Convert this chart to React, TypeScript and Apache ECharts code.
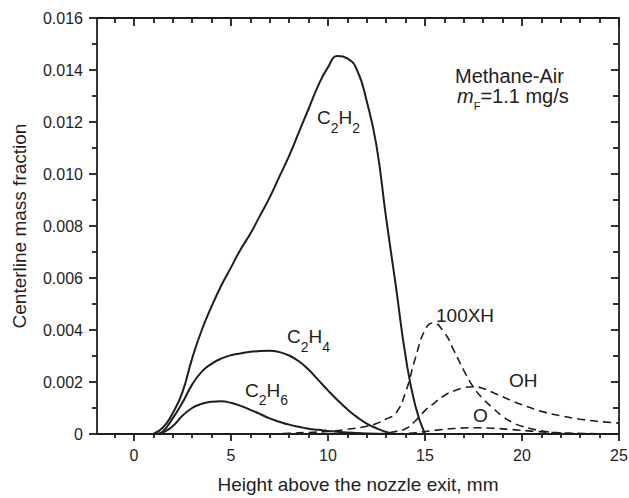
import React, { useEffect, useRef } from "react";
import * as echarts from "echarts";

// ---- axes ----
const xMin = -1.9;
const xMax = 25;
const yMin = 0;
const yMax = 0.016;
const yInterval = 0.002;
const xMajorTicks = [0, 5, 10, 15, 20, 25];
const xMinorTicks = [-1, 1, 2, 3, 4, 6, 7, 8, 9, 11, 12, 13, 14, 16, 17, 18, 19, 21, 22, 23, 24];
const xTitle = "Height above the nozzle exit, mm";
const yTitle = "Centerline mass fraction";

// ---- series (solid) ----
const c2h2X = [1.0, 1.5, 2.0, 2.5, 3.0, 3.5, 4.0, 4.5, 5.0, 5.5, 6.0, 6.5, 7.0, 7.5, 8.0, 8.5, 9.0, 9.5, 10.0, 10.5, 11.0, 11.5, 12.0, 12.5, 13.0, 13.5, 14.0, 14.5, 15.0];
const c2h2Y = [0, 0.00025, 0.0008, 0.0016, 0.0029, 0.004, 0.0049, 0.0057, 0.0064, 0.0071, 0.0077, 0.0084, 0.0091, 0.0099, 0.0107, 0.0116, 0.0125, 0.0134, 0.0141, 0.01454, 0.01445, 0.014, 0.0128, 0.0111, 0.0083, 0.0057, 0.003, 0.0011, 0];

const c2h4X = [1.2, 1.5, 2.0, 2.5, 3.0, 3.5, 4.0, 4.5, 5.0, 5.5, 6.0, 6.5, 7.0, 7.5, 8.0, 8.5, 9.0, 9.5, 10.0, 10.5, 11.0, 11.5, 12.0, 12.5, 13.0, 13.5];
const c2h4Y = [0, 0.0001, 0.0006, 0.0012, 0.0019, 0.0024, 0.0027, 0.0029, 0.00303, 0.0031, 0.00316, 0.00319, 0.0032, 0.00315, 0.00302, 0.0028, 0.00248, 0.00208, 0.00168, 0.0013, 0.00095, 0.00065, 0.0004, 0.00022, 0.00008, 0];

const c2h6X = [1.3, 1.5, 2.0, 2.5, 3.0, 3.5, 4.0, 4.5, 5.0, 5.5, 6.0, 6.5, 7.0, 7.5, 8.0, 8.5, 9.0, 9.5, 10.0, 11.0, 12.0, 13.0];
const c2h6Y = [0, 0.00005, 0.0003, 0.0007, 0.001, 0.00116, 0.00124, 0.00126, 0.0012, 0.00108, 0.00093, 0.00077, 0.0006, 0.00047, 0.00036, 0.00028, 0.0002, 0.00016, 0.00012, 0.00006, 0.00002, 0];

// ---- series (dashed) ----
const hX = [7.0, 8.0, 9.0, 10.0, 11.0, 12.0, 12.5, 13.0, 13.5, 14.0, 14.5, 15.0, 15.4, 16.0, 16.5, 17.0, 17.5, 18.0, 18.5, 19.0, 19.5, 20.0, 21.0, 22.0, 23.0];
const hY = [0, 0.00003, 0.00006, 0.0001, 0.00018, 0.0003, 0.0004, 0.00058, 0.0008, 0.0016, 0.0029, 0.004, 0.00427, 0.0039, 0.0032, 0.00245, 0.0018, 0.00135, 0.001, 0.00068, 0.00045, 0.0003, 0.00012, 0.00004, 0];

const ohX = [12.5, 13.0, 13.5, 14.0, 14.5, 15.0, 15.5, 16.0, 16.5, 17.0, 17.5, 18.0, 18.5, 19.0, 19.5, 20.0, 21.0, 22.0, 23.0, 24.0, 25.0];
const ohY = [0, 0.00003, 0.0001, 0.0002, 0.0005, 0.0009, 0.0012, 0.00148, 0.00166, 0.00178, 0.00182, 0.00175, 0.0016, 0.00143, 0.00127, 0.00113, 0.00087, 0.0007, 0.00057, 0.00048, 0.00042];

const oX = [13.5, 14.5, 15.5, 16.5, 17.5, 18.5, 19.5, 20.5, 21.5, 22.5, 24.0, 25.0];
const oY = [0, 0.00005, 0.00014, 0.00021, 0.00024, 0.00022, 0.00017, 0.00011, 0.00006, 0.00003, 0.00001, 0];

const zip = (xs: number[], ys: number[]) => xs.map((x, i) => [x, ys[i]]);

export default function App() {
  const ref = useRef<HTMLDivElement>(null);
  useEffect(() => {
    const chart = echarts.init(ref.current!, null, { renderer: "svg" });
    const font = "'Liberation Sans', Arial, Helvetica, sans-serif";
    const ink = "#1e1e1e";
    const lineW = 1.8;
    const tickStyle = { color: ink, width: lineW };

    const baseX: any = {
      type: "value",
      min: xMin,
      max: xMax,
      splitLine: { show: false },
      axisLine: { show: false, onZero: false },
      axisLabel: { show: false },
    };
    const baseY: any = {
      type: "value",
      min: yMin,
      max: yMax,
      interval: yInterval,
      splitLine: { show: false },
      minorSplitLine: { show: false },
      axisLine: { show: true, onZero: false, lineStyle: tickStyle },
    };

    const sub = (size: number, pad: number) => ({
      fontSize: size,
      lineHeight: size,
      fontFamily: font,
      fill: ink,
      padding: [pad, 0, 0, 0],
    });
    const main = (size: number) => ({ fontSize: size, lineHeight: size + 2, fontFamily: font, fill: ink });

    const label = (x: number, y: number, text: string, size = 19) => ({
      type: "text",
      x,
      y,
      silent: true,
      style: {
        text,
        fill: ink,
        fontFamily: font,
        fontSize: size,
        align: "left",
        verticalAlign: "middle",
        rich: {
          m: main(size),
          s: sub(14, 20),
          i: { ...main(size), fontStyle: "italic" },
          f: sub(11, 20),
        },
      },
    });

    chart.setOption({
      animation: false,
      grid: { left: 97, right: 10, top: 18, bottom: 64, outerBoundsMode: "none" },
      xAxis: [
        {
          ...baseX,
          position: "bottom",
          axisLine: { show: true, onZero: false, lineStyle: tickStyle },
          axisTick: { show: true, customValues: xMajorTicks, length: 7, lineStyle: tickStyle },
          axisLabel: { show: true, customValues: xMajorTicks, margin: 13, fontSize: 16, color: ink, fontFamily: font },
          name: xTitle,
          nameLocation: "middle",
          nameGap: 41,
          nameTextStyle: { fontSize: 19, color: ink, fontFamily: font },
        },
        {
          ...baseX,
          position: "bottom",
          axisTick: { show: true, customValues: xMinorTicks, length: 4, lineStyle: tickStyle },
        },
        {
          ...baseX,
          position: "top",
          axisLine: { show: true, onZero: false, lineStyle: tickStyle },
          axisTick: { show: true, inside: true, customValues: xMajorTicks, length: 8, lineStyle: tickStyle },
        },
        {
          ...baseX,
          position: "top",
          axisTick: { show: true, inside: true, customValues: xMinorTicks, length: 5, lineStyle: tickStyle },
        },
      ],
      yAxis: [
        {
          ...baseY,
          position: "left",
          axisTick: { show: true, length: 8, lineStyle: tickStyle },
          minorTick: { show: true, splitNumber: 2, length: 5, lineStyle: tickStyle },
          axisLabel: {
            margin: 14,
            fontSize: 16,
            color: ink,
            fontFamily: font,
            formatter: (v: number) => (v === 0 ? "0" : v.toFixed(3)),
          },
          name: yTitle,
          nameLocation: "middle",
          nameGap: 68,
          nameTextStyle: { fontSize: 19, color: ink, fontFamily: font },
        },
        {
          ...baseY,
          position: "right",
          axisTick: { show: true, inside: true, length: 8, lineStyle: tickStyle },
          minorTick: { show: true, splitNumber: 2, length: 6, lineStyle: tickStyle },
          axisLabel: { show: false },
        },
      ],
      series: [
        { name: "C2H2", data: zip(c2h2X, c2h2Y), dashed: false },
        { name: "C2H4", data: zip(c2h4X, c2h4Y), dashed: false },
        { name: "C2H6", data: zip(c2h6X, c2h6Y), dashed: false },
        { name: "100XH", data: zip(hX, hY), dashed: true },
        { name: "OH", data: zip(ohX, ohY), dashed: true },
        { name: "O", data: zip(oX, oY), dashed: true },
      ].map((s) => ({
        type: "line",
        name: s.name,
        data: s.data,
        xAxisIndex: 0,
        yAxisIndex: 0,
        symbol: "none",
        smooth: 0.5,
        silent: true,
        lineStyle: {
          color: ink,
          width: s.dashed ? 1.6 : 2,
          type: s.dashed ? [8, 5] : "solid",
        },
      })),
      graphic: [
        label(455, 76, "{m|Methane-Air}", 20),
        label(457, 96, "{i|m}{f|F}{m|=1.1 mg/s}", 20),
        label(317, 117.5, "{m|C}{s|2}{m|H}{s|2}"),
        label(287, 336.5, "{m|C}{s|2}{m|H}{s|4}"),
        label(245, 390, "{m|C}{s|2}{m|H}{s|6}"),
        label(436, 315, "{m|100XH}"),
        label(509, 380, "{m|OH}"),
        label(473, 415, "{m|O}"),
      ],
    });
    return () => chart.dispose();
  }, []);
  return (
    <div
      ref={ref}
      style={{ position: "absolute", left: 0, top: 0, width: 629, height: 498, background: "#fff" }}
    />
  );
}
